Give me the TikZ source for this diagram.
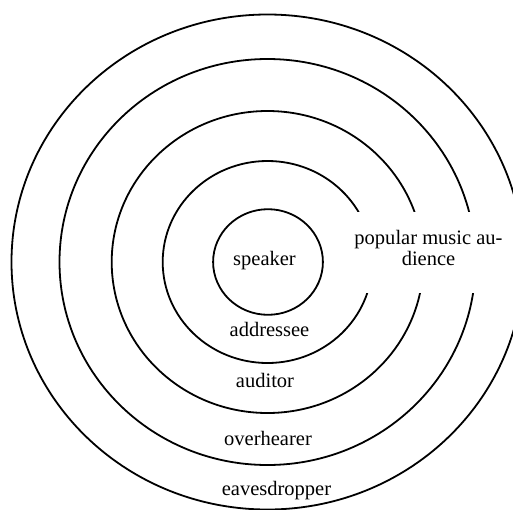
\documentclass[tikz,border=0pt]{standalone}
\usepackage{fontspec}
\setmainfont{Liberation Serif}
\newfontfamily\tmsfont{Liberation Serif}
\begin{document}
\begin{tikzpicture}[x=1pt,y=-1pt,
  ring/.style={draw=black, line width=1.8pt},
  lbl/.style={font=\tmsfont\fontsize{20.5}{21}\selectfont, inner sep=0pt, anchor=base},
  cover/.style={fill=white, draw=none}]
\useasboundingbox (0,0) rectangle (513,509);
\clip (0,0) rectangle (513,509);
\coordinate (c) at (267.5,262);
\draw[ring] (c) ellipse [x radius=256pt, y radius=247.5pt];
\draw[ring] (c) ellipse [x radius=208pt, y radius=203pt];
\draw[ring] (c) ellipse [x radius=155.8pt, y radius=151pt];
\draw[ring] (c) ellipse [x radius=104.8pt, y radius=101pt];
\draw[ring] (268,262) ellipse [x radius=54.9pt, y radius=52.8pt];
\path[cover] (335,211.7) rectangle (520,292.7);
\node[font=\tmsfont\fontsize{20.5}{21}\selectfont, inner sep=0pt, align=center] (aud) at (428.5,248) {popular music au-\\dience};
\node[lbl] (spk) at (264.5,265) {speaker};
\node[lbl] (adr) at (269.5,336) {addressee};
\node[lbl] (aut) at (265,387) {auditor};
\node[lbl] (ovh) at (268,445) {overhearer};
\node[lbl] (eav) at (276.5,495) {eavesdropper};
\end{tikzpicture}
\end{document}
